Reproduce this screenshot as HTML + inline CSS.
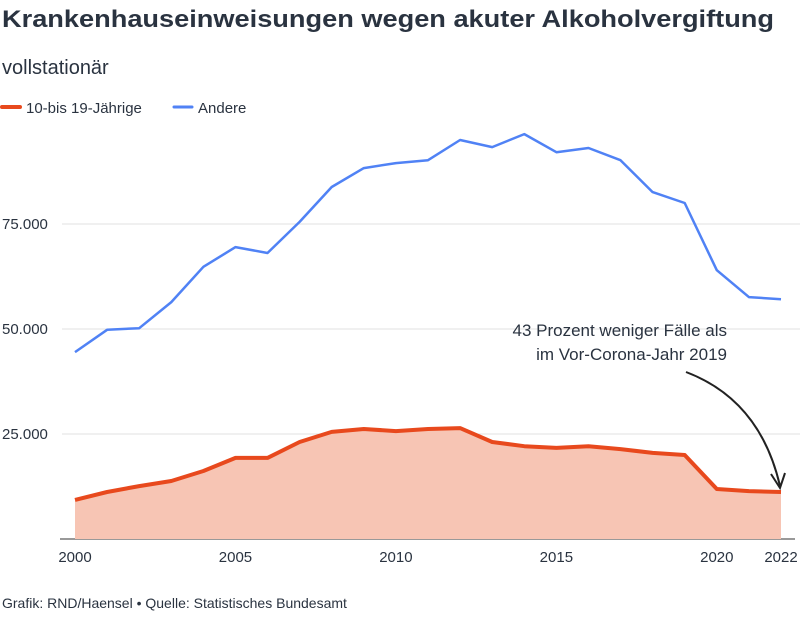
<!DOCTYPE html>
<html><head><meta charset="utf-8"><style>
body{margin:0;background:#fff;font-family:"Liberation Sans",sans-serif;width:800px;height:614px;overflow:hidden}
</style></head><body>
<svg id="c" width="800" height="614" xmlns="http://www.w3.org/2000/svg">
<text x="2" y="27" font-size="24" font-weight="bold" fill="#2a3340" textLength="772" lengthAdjust="spacingAndGlyphs">Krankenhauseinweisungen wegen akuter Alkoholvergiftung</text>
<text x="2" y="74" font-size="20" fill="#2a3340">vollstationär</text>
<g>
<line x1="2" y1="107" x2="20" y2="107" stroke="#e8491d" stroke-width="4" stroke-linecap="round"/>
<text x="26" y="113" font-size="15" fill="#2a3340">10-bis 19-Jährige</text>
<line x1="174" y1="107" x2="192" y2="107" stroke="#5082f5" stroke-width="3" stroke-linecap="round"/>
<text x="198" y="113" font-size="15" fill="#2a3340">Andere</text>
</g>
<g id="grid"></g><g id="marks"></g><g id="xt"></g>
<text x="727" y="336" font-size="17" fill="#2a3340" text-anchor="end">43 Prozent weniger Fälle als</text>
<text x="727" y="360" font-size="17" fill="#2a3340" text-anchor="end">im Vor-Corona-Jahr 2019</text>
<path d="M686 372 Q760 400 780 486" fill="none" stroke="#222" stroke-width="2"/>
<path d="M771 474 L780 488 L785 473" fill="none" stroke="#222" stroke-width="2"/>
<text x="2" y="608" font-size="14" fill="#2a3340">Grafik: RND/Haensel • Quelle: Statistisches Bundesamt</text>
</svg>
<script>
const years=[2000,2001,2002,2003,2004,2005,2006,2007,2008,2009,2010,2011,2012,2013,2014,2015,2016,2017,2018,2019,2020,2021,2022];
const other=[44500,49800,50200,56400,64800,69500,68100,75500,83800,88300,89500,90200,95000,93300,96400,92100,93100,90200,82600,80000,64000,57600,57100];
const youth=[9300,11200,12600,13800,16200,19300,19300,23100,25500,26200,25700,26200,26400,23100,22100,21700,22100,21400,20500,20000,11900,11400,11200];
const yTicks=[25000,50000,75000];
const xTicks=[2000,2005,2010,2015,2020,2022];
const NS="http://www.w3.org/2000/svg";
const X=y=>75+(y-2000)*(706/22), Y=v=>539-v*105/25000;
function mk(t,a,p){const e=document.createElementNS(NS,t);for(const k in a)e.setAttribute(k,a[k]);document.getElementById(p).appendChild(e);return e;}
yTicks.forEach(v=>{
 const l=mk('line',{x1:62,x2:800,y1:Y(v),y2:Y(v),stroke:'#e0e0e0'},'grid');
 
 
 const t=mk('text',{x:2,y:Y(v)+5,'font-size':15,fill:'#2a3340'},'grid');
 t.textContent=v.toLocaleString('de-DE');
 
 
});
const bl=mk('line',{x1:60,x2:795,y1:539,y2:539,stroke:'#333'},'grid');


xTicks.forEach(y=>{
 const t=mk('text',{x:X(y),y:562,'font-size':15,fill:'#2a3340','text-anchor':'middle'},'xt');
 t.textContent=y;
 
 
});
const pts=a=>a.map((v,i)=>X(years[i]).toFixed(1)+','+Y(v).toFixed(1)).join(' ');
const area=mk('polygon',{points:X(years[0])+',539 '+pts(youth)+' '+X(years[years.length-1])+',539',fill:'#f7c5b4'},'marks');


const lo=mk('polyline',{points:pts(other),fill:'none',stroke:'#5082f5','stroke-width':2.5,'stroke-linejoin':'round'},'marks');


const ly=mk('polyline',{points:pts(youth),fill:'none',stroke:'#e8491d','stroke-width':4,'stroke-linejoin':'round'},'marks');


</script>
</body></html>
